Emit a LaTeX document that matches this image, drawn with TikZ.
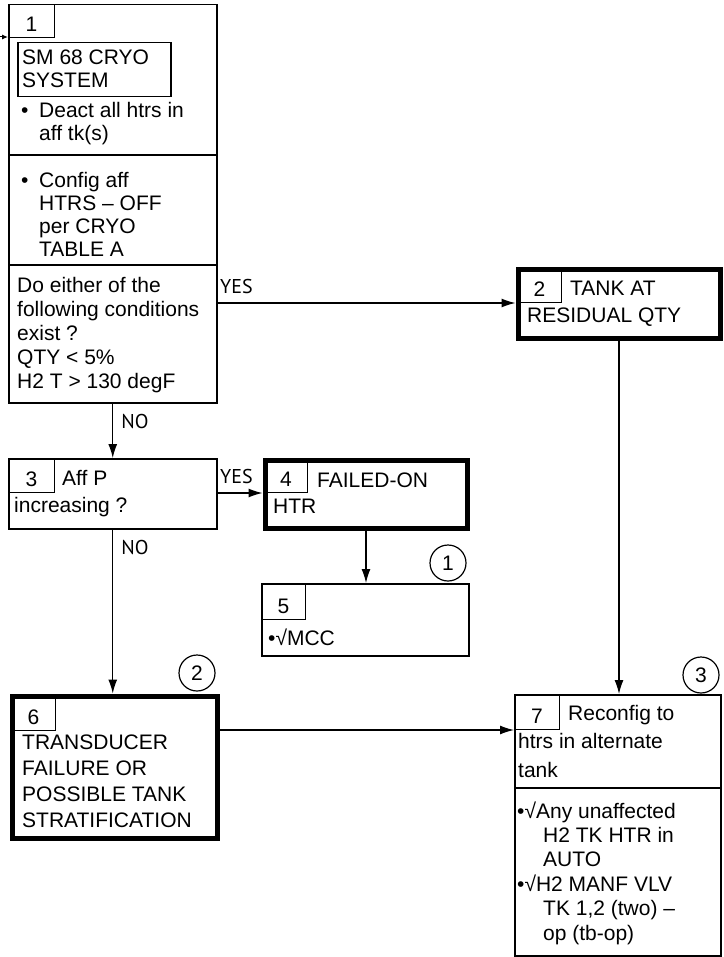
\documentclass[tikz,border=0pt]{standalone}
\usepackage{fontspec}
\setmainfont{Liberation Sans}
\newfontfamily\answerfont{PT Sans}
\usetikzlibrary{arrows.meta}

\tikzset{
  frame/.style={draw,line width=1.5pt,inner sep=0pt,anchor=north west},
  heavyframe/.style={frame,line width=5pt},
  tabbox/.style={draw,line width=1pt,inner sep=0pt,anchor=north west,text depth=6pt,
                 font=\fontsize{21}{24}\selectfont},
  % anchored at the baseline of the last line
  body/.style={anchor=base west,align=left,inner sep=0pt,font=\fontsize{21}{#1}\selectfont},
  body/.default=24,
  answer/.style={inner sep=0pt,font=\answerfont\fontsize{20}{22}\selectfont},
  flow/.style={-{Latex[length=14pt,width=9pt]},line width=1.3pt},
  marker/.style={draw,circle,line width=1.2pt,minimum size=36pt,inner sep=0pt,
                 font=\fontsize{21}{24}\selectfont}
}
\newcommand{\stepframe}[6]{%
  \node[#1,minimum width=#5pt,minimum height=#6pt] (#2) at (#3,#4) {};}
\newcommand{\steptab}[6]{%
  \node[tabbox,minimum width=#4pt,text height=#5pt] (#1) at (#2,#3) {#6};}

\begin{document}
\begin{tikzpicture}[x=1pt,y=-1pt]
  \useasboundingbox (0,0) rectangle (723,957);

  % boxes
  \stepframe{frame}{b1}{8}{4}{208}{398}
  \stepframe{heavyframe}{b2}{515.5}{267.5}{202}{68}
  \stepframe{frame}{b3}{8}{458}{208}{70}
  \stepframe{heavyframe}{b4}{262.5}{457.5}{202}{68}
  \stepframe{frame}{b5}{261}{583}{207}{72}
  \stepframe{heavyframe}{b6}{9.5}{693.5}{205}{142}
  \stepframe{frame}{b7}{514}{694}{206}{261}

  % number tabs
  \steptab{t1}{8}{4}{46}{27}{1}
  \steptab{t2}{517}{269}{44}{27}{2}
  \steptab{t3}{8}{458}{46}{28}{3}
  \steptab{t4}{264}{459}{43}{27}{4}
  \steptab{t5}{261}{583}{44}{30}{5}
  \steptab{t6}{11}{695}{44}{29}{6}
  \steptab{t7}{514}{694}{45}{29}{7}

  % dividers
  \draw[line width=1.5pt] (b1.west |- 0,155) -- (b1.east |- 0,155);
  \draw[line width=1.5pt] (b1.west |- 0,265) -- (b1.east |- 0,265);
  \draw[line width=1.5pt] (b7.west |- 0,788) -- (b7.east |- 0,788);

  % texts
  \node[frame,minimum width=153pt,minimum height=54pt] (sm) at (17,42) {};
  \node[body=23] (x1a) at (22,88) {SM 68 CRYO\\SYSTEM};
  \node[body=22.5] (x1b) at (21,140.5) {\makebox[18pt][l]{•}Deact all htrs in\\\hspace*{18pt}aff tk(s)};
  \node[body=23.3] (x1c) at (21,257) {\makebox[18pt][l]{•}Config aff\\\hspace*{18pt}HTRS – OFF\\\hspace*{18pt}per CRYO\\\hspace*{18pt}TABLE A};
  \node[body=24] (x1d) at (17,388) {Do either of the\\following conditions\\exist ?\\QTY < 5\%\\H2 T > 130 degF};
  \node[body=27] (x2) at (527,322) {\hspace*{43pt}TANK AT\\RESIDUAL QTY};
  \node[body=27] (x3) at (14,512) {\hspace*{48pt}Aff P\\increasing ?};
  \node[body=26] (x4) at (273,513) {\hspace*{44pt}FAILED-ON\\HTR};
  \node[body] (x5) at (268,645) {•√MCC};
  \node[body=25.7] (x6) at (22,827) {TRANSDUCER\\FAILURE OR\\POSSIBLE TANK\\STRATIFICATION};
  \node[body=28.5] (x7a) at (518,777) {\hspace*{50pt}Reconfig to\\htrs in alternate\\tank};
  \node[body=24.4] (x7b) at (517,940) {•√Any unaffected\\\hspace*{26pt}H2 TK HTR in\\\hspace*{26pt}AUTO\\•√H2 MANF VLV\\\hspace*{26pt}TK 1,2 (two) –\\\hspace*{26pt}op (tb-op)};

  % circled markers
  \node[marker] (m1) at (448,563) {1};
  \node[marker] (m2) at (197,673) {2};
  \node[marker] (m3) at (701,675) {3};

  % connectors
  \coordinate (entry) at (0,37);
  \draw[-{Latex[length=6pt,width=5pt]},line width=1pt] (entry) -- (entry -| b1.west);
  \draw[flow] (b1.east |- t2.south) -- node[answer,pos=0,anchor=south west,xshift=2pt,yshift=9pt] {YES} (b2.west |- t2.south);
  \draw[flow] (b1.south) -- node[answer,pos=0,anchor=north west,xshift=8pt,yshift=-10pt] {NO} (b3.north);
  \draw[flow] (b3.east |- t4.south) -- node[answer,pos=0,anchor=south west,xshift=2pt,yshift=9pt] {YES} (b4.west |- t4.south);
  \draw[flow] (b4.south) -- (b4.south |- b5.north);
  \draw[flow] (b3.south) -- node[answer,pos=0,anchor=north west,xshift=8pt,yshift=-10pt] {NO} (b3.south |- b6.north);
  \draw[flow] (b6.east |- t7.south) -- (b7.west |- t7.south);
  \draw[flow] (b2.south) -- (b2.south |- b7.north);
\end{tikzpicture}
\end{document}
